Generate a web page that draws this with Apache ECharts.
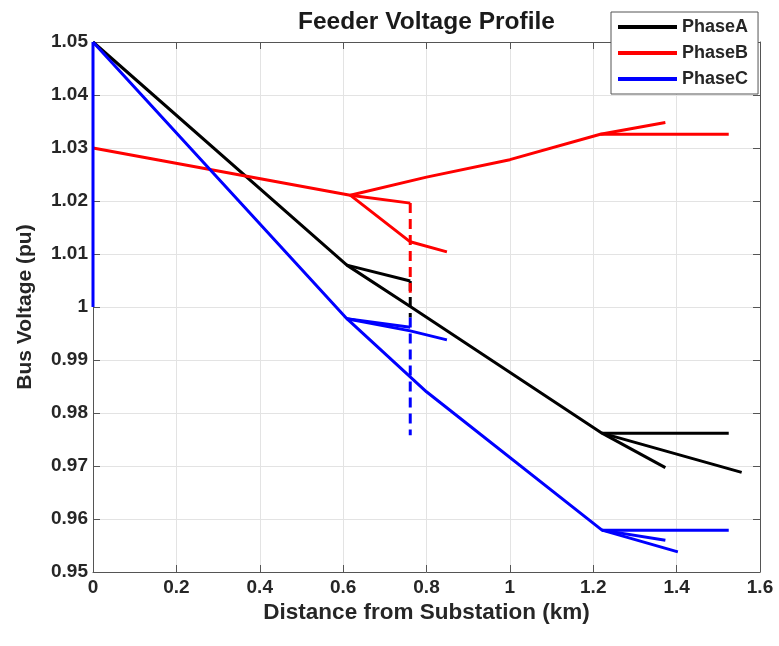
<!DOCTYPE html>
<html>
<head>
<meta charset="utf-8">
<script src="https://cdn.jsdelivr.net/npm/echarts@6/dist/echarts.min.js"></script>
<style>html,body{margin:0;padding:0;background:#fff;}#c{width:779px;height:646px;}</style>
</head>
<body>
<div id="c"></div>
<script>
// ---- data (distance km, voltage pu) ----
const phaseA_trunk = [[0,1.05],[0.609,1.0079],[0.761,1.0001],[1.221,0.9762],[1.556,0.9688]];
const phaseA_lat1  = [[0.609,1.0079],[0.761,1.0049]];
const phaseA_lat2  = [[1.221,0.9762],[1.373,0.9697]];
const phaseA_lat3  = [[1.221,0.9762],[1.525,0.9762]];
const phaseA_dash  = [[0.761,1.0049],[0.761,0.998]];

const phaseB_trunk = [[0,1.03],[0.617,1.0211],[0.80,1.0245],[1.0,1.0278],[1.217,1.0326],[1.373,1.0348]];
const phaseB_lat1  = [[0.617,1.0211],[0.761,1.0196]];
const phaseB_lat2  = [[0.617,1.0211],[0.761,1.0123],[0.849,1.0104]];
const phaseB_lat3  = [[1.217,1.0326],[1.525,1.0326]];
const phaseB_dash  = [[0.761,1.0196],[0.761,1.0027]];

const phaseC_src   = [[0,1.0],[0,1.05]];
const phaseC_trunk = [[0,1.05],[0.609,0.9978],[0.80,0.9840],[1.221,0.9579],[1.403,0.9538]];
const phaseC_lat1  = [[0.609,0.9978],[0.761,0.9962]];
const phaseC_lat2  = [[0.609,0.9978],[0.761,0.9955],[0.849,0.9938]];
const phaseC_lat3  = [[1.221,0.9579],[1.373,0.9560]];
const phaseC_lat4  = [[1.221,0.9579],[1.525,0.9579]];
const phaseC_dash  = [[0.761,0.998],[0.761,0.9758]];

const phaseNames = ['PhaseA','PhaseB','PhaseC'];
const xTicks = ['0','0.2','0.4','0.6','0.8','1','1.2','1.4','1.6'];
const yTicks = ['0.95','0.96','0.97','0.98','0.99','1','1.01','1.02','1.03','1.04','1.05'];

// ---- build ----
const FONT = "'Liberation Sans', Arial, Helvetica, sans-serif";
const colors = {PhaseA:'#000000', PhaseB:'#ff0000', PhaseC:'#0000ff'};
function mk(name, data, dashed){
  return {
    type:'line', name:name, data:data, symbol:'none', showSymbol:false,
    xAxisIndex:0, yAxisIndex:0, silent:true, animation:false,
    itemStyle:{color:colors[name]},
    lineStyle:{color:colors[name], width:3, type: dashed ? [10,6] : 'solid', cap:'butt', join:'round'},
    emphasis:{disabled:true}
  };
}
const series = [
  mk('PhaseA', phaseA_trunk), mk('PhaseA', phaseA_lat1), mk('PhaseA', phaseA_lat2), mk('PhaseA', phaseA_lat3),
  mk('PhaseB', phaseB_trunk), mk('PhaseB', phaseB_lat1), mk('PhaseB', phaseB_lat2), mk('PhaseB', phaseB_lat3),
  mk('PhaseC', phaseC_trunk), mk('PhaseC', phaseC_lat1), mk('PhaseC', phaseC_lat2), mk('PhaseC', phaseC_lat3), mk('PhaseC', phaseC_lat4),
  mk('PhaseA', phaseA_dash, true), mk('PhaseB', phaseB_dash, true), mk('PhaseC', phaseC_dash, true),
  mk('PhaseC', phaseC_src)
];

function fmt(v){ return String(parseFloat(Number(v).toFixed(2))); }
const axisColor = '#555555';
const tickLabel = {fontFamily:FONT, fontWeight:'bold', fontSize:19, color:'#262626'};

const option = {
  backgroundColor:'#ffffff',
  animation:false,
  title:{
    text:'Feeder Voltage Profile', left:298, top:10, padding:0,
    textStyle:{fontFamily:FONT, fontWeight:'bold', fontSize:24.5, color:'#1a1a1a'}
  },
  legend:{
    data:phaseNames, orient:'vertical', left:611, top:12,
    backgroundColor:'#ffffff', borderColor:'#555555', borderWidth:1, borderRadius:0,
    padding:[6,10,6,7], itemGap:8, itemWidth:59, itemHeight:4, icon:'rect',
    textStyle:{fontFamily:FONT, fontWeight:'bold', fontSize:18, color:'#262626'},
    selectedMode:false, z:10
  },
  grid:{left:93, right:19, top:42, bottom:74, containLabel:false},
  xAxis:[
    {type:'value', position:'bottom', min:0, max:1.6, interval:0.2,
     name:'Distance from Substation (km)', nameLocation:'middle', nameGap:29, nameMoveOverlap:false,
     nameTextStyle:{fontFamily:FONT, fontWeight:'bold', fontSize:22.5, color:'#262626'},
     axisLine:{show:true, onZero:false, lineStyle:{color:axisColor, width:1}},
     axisTick:{show:true, inside:true, length:7, lineStyle:{color:axisColor}},
     axisLabel:{...tickLabel, margin:6, formatter:(v)=>{const i=Math.round(v/0.2); return xTicks[i]!==undefined?xTicks[i]:fmt(v);}},
     splitLine:{show:true, lineStyle:{color:'#e3e3e3', width:1}}},
    {type:'value', position:'top', min:0, max:1.6, interval:0.2,
     axisLine:{show:true, onZero:false, lineStyle:{color:axisColor, width:1}},
     axisTick:{show:true, inside:true, length:7, lineStyle:{color:axisColor}},
     axisLabel:{show:false}, splitLine:{show:false}}
  ],
  yAxis:[
    {type:'value', position:'left', min:0.95, max:1.05, interval:0.01,
     name:'Bus Voltage (pu)', nameLocation:'middle', nameGap:57, nameRotate:90,
     nameTextStyle:{fontFamily:FONT, fontWeight:'bold', fontSize:21, color:'#262626'},
     axisLine:{show:true, onZero:false, lineStyle:{color:axisColor, width:1}},
     axisTick:{show:true, inside:true, length:7, lineStyle:{color:axisColor}},
     axisLabel:{...tickLabel, margin:5, formatter:(v)=>{const i=Math.round((v-0.95)/0.01); return yTicks[i]!==undefined?yTicks[i]:fmt(v);}},
     splitLine:{show:true, lineStyle:{color:'#e3e3e3', width:1}}},
    {type:'value', position:'right', min:0.95, max:1.05, interval:0.01,
     axisLine:{show:true, onZero:false, lineStyle:{color:axisColor, width:1}},
     axisTick:{show:true, inside:true, length:7, lineStyle:{color:axisColor}},
     axisLabel:{show:false}, splitLine:{show:false}}
  ],
  series:series
};
const chart = echarts.init(document.getElementById('c'), null, {renderer:'canvas'});
chart.setOption(option);
</script>
</body>
</html>
